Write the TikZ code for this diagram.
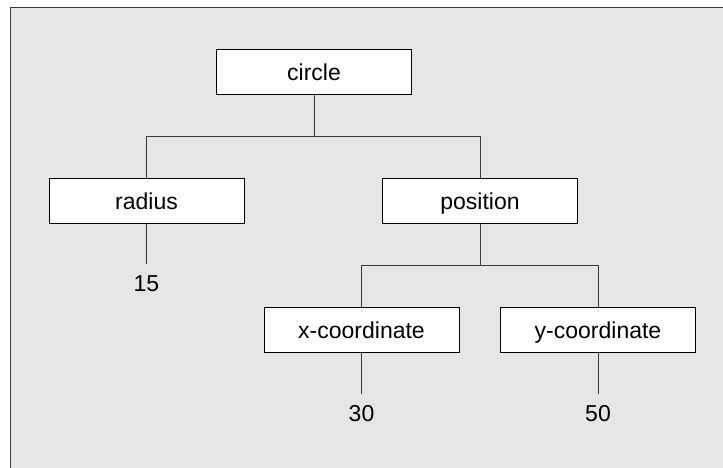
\documentclass[tikz,border=0pt]{standalone}
\usepackage{fontspec}
\setmainfont{Liberation Sans}
\usepackage{xcolor}
\definecolor{panelgrey}{HTML}{E5E5E5}
\definecolor{linegrey}{HTML}{3A3A3A}
\tikzset{
  treebox/.style={draw=black, fill=white, line width=1pt, minimum width=195pt,
    minimum height=45pt, inner sep=0pt, text height=17pt, text depth=0pt,
    font=\fontsize{23}{27}\selectfont},
  treeval/.style={inner xsep=2pt, inner ysep=11pt, font=\fontsize{23}{27}\selectfont},
  treelink/.style={draw=linegrey, line width=1pt}
}

\begin{document}
\begin{tikzpicture}[x=1pt,y=-1pt]
\useasboundingbox (0,0) rectangle (723,467);
\clip (0,0) rectangle (723,467);
\draw[fill=panelgrey, draw=linegrey, line width=1pt] (10,7) rectangle (740,490);
% boxes of the tree
\node[treebox] (circ) at (314,71.5) {circle};
\node[treebox] (rad) at (146.5,200.5) {radius};
\node[treebox] (pos) at (480,200.5) {position};
\node[treebox] (xco) at (361.5,330) {x-coordinate};
\node[treebox] (yco) at (598,330) {y-coordinate};
% leaf values
\node[treeval, anchor=north] (v15) at (146.5,264) {15};
\node[treeval, anchor=north] (v30) at (361.5,394) {30};
\node[treeval, anchor=north] (v50) at (598,394) {50};
% branch points
\coordinate (jcirc) at (314,136);
\coordinate (jpos) at (480,265);
\path[treelink] (circ.south) -- (jcirc) -| (rad.north);
\path[treelink] (jcirc) -| (pos.north);
\path[treelink] (pos.south) -- (jpos) -| (xco.north);
\path[treelink] (jpos) -| (yco.north);
\path[treelink] (rad.south) -- (v15.north);
\path[treelink] (xco.south) -- (v30.north);
\path[treelink] (yco.south) -- (v50.north);
\end{tikzpicture}
\end{document}
